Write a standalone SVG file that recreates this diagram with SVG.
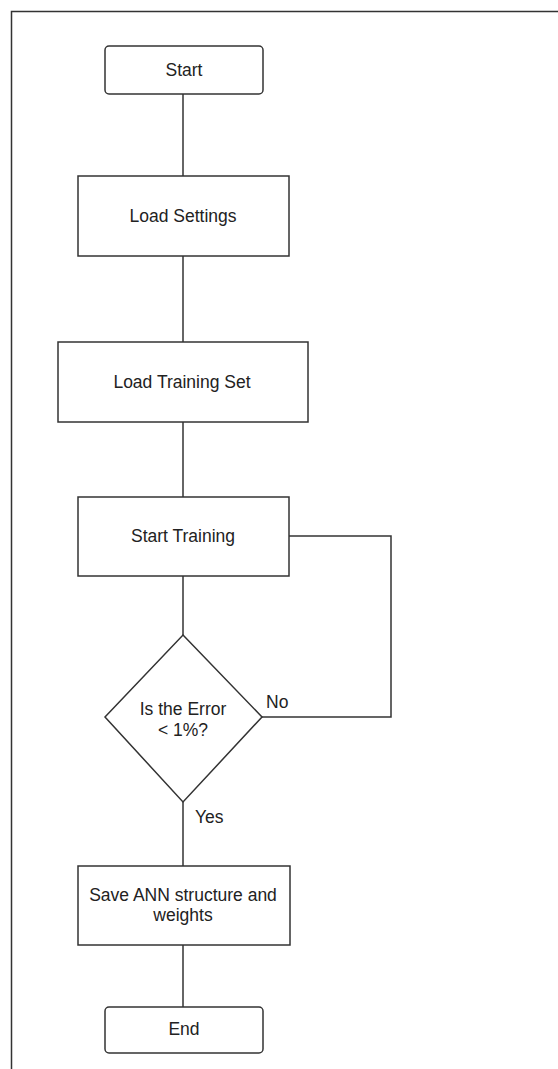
<svg xmlns="http://www.w3.org/2000/svg" width="558" height="1069" viewBox="0 0 558 1069">
<style>
.box{fill:#fff;stroke:#333;stroke-width:1.5}
.ln{fill:none;stroke:#333;stroke-width:1.5}
.t{font-family:"Liberation Sans",Arial,sans-serif;font-size:17.5px;fill:#222;text-anchor:middle}
.l{font-family:"Liberation Sans",Arial,sans-serif;font-size:17.5px;fill:#222}
</style>
<rect width="558" height="1069" fill="#fff"/>
<path class="ln" d="M11.5 1069 V11.5 H558"/>
<g id="connectors">
<path class="ln" d="M183 94 V176"/>
<path class="ln" d="M183 256 V342"/>
<path class="ln" d="M183 422 V497"/>
<path class="ln" d="M183 576 V635"/>
<path class="ln" d="M289 536 H391 V717 H262"/>
<path class="ln" d="M183 802 V866"/>
<path class="ln" d="M183 945 V1007"/>
<text class="l" x="266" y="708">No</text>
<text class="l" x="195" y="823">Yes</text>
</g>
<g id="start"><rect class="box" x="105" y="46" width="158" height="48" rx="4"/><text class="t" x="184" y="76">Start</text></g>
<g id="load-settings"><rect class="box" x="78" y="176" width="211" height="80"/><text class="t" x="183" y="222">Load Settings</text></g>
<g id="load-training"><rect class="box" x="58" y="342" width="250" height="80"/><text class="t" x="182" y="388">Load Training Set</text></g>
<g id="start-training"><rect class="box" x="78" y="497" width="211" height="79"/><text class="t" x="183" y="542">Start Training</text></g>
<g id="decision"><polygon class="box" points="183,635 262,717 183,802 105,717"/><text class="t" x="183" y="715">Is the Error</text><text class="t" x="183" y="736">&lt; 1%?</text></g>
<g id="save"><rect class="box" x="78" y="866" width="212" height="79"/><text class="t" x="183" y="901">Save ANN structure and</text><text class="t" x="183" y="921">weights</text></g>
<g id="end"><rect class="box" x="105" y="1007" width="158" height="46" rx="4"/><text class="t" x="184" y="1035">End</text></g>
</svg>
